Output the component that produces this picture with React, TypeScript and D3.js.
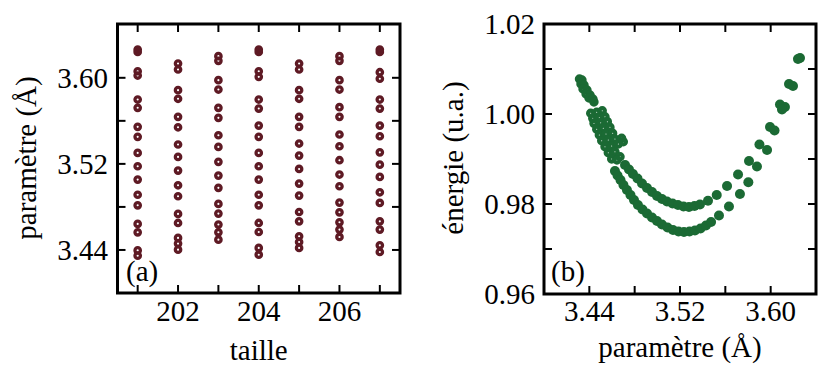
import React from 'react';
import * as d3 from 'd3';

// ---------- Panel (a): parameter vs size ----------
const sizes = [201, 202, 203, 204, 205, 206, 207];
const param201 = [3.6263, 3.6240, 3.6061, 3.6021, 3.5798, 3.5721, 3.5544, 3.5451, 3.5302, 3.5178, 3.5054, 3.4913, 3.4815, 3.4642, 3.4564, 3.4396, 3.4347];
const param202 = [3.6133, 3.6077, 3.5885, 3.5805, 3.5637, 3.5540, 3.5380, 3.5265, 3.5138, 3.5001, 3.4899, 3.4735, 3.4651, 3.4512, 3.4459, 3.4403];
const param203 = [3.6201, 3.6158, 3.5978, 3.5891, 3.5721, 3.5628, 3.5466, 3.5358, 3.5219, 3.5091, 3.4977, 3.4828, 3.4738, 3.4636, 3.4564, 3.4496];
const param204 = [3.6263, 3.6240, 3.6061, 3.6009, 3.5798, 3.5714, 3.5556, 3.5451, 3.5302, 3.5178, 3.5054, 3.4913, 3.4815, 3.4651, 3.4567, 3.4419, 3.4356];
const param205 = [3.6133, 3.6077, 3.5885, 3.5805, 3.5637, 3.5544, 3.5389, 3.5277, 3.5153, 3.5017, 3.4905, 3.4753, 3.4666, 3.4527, 3.4474, 3.4419];
const param206 = [3.6201, 3.6158, 3.5978, 3.5891, 3.5727, 3.5637, 3.5473, 3.5364, 3.5234, 3.5101, 3.4992, 3.4840, 3.4750, 3.4657, 3.4589, 3.4521];
const param207 = [3.6263, 3.6240, 3.6052, 3.5991, 3.5798, 3.5714, 3.5556, 3.5457, 3.5307, 3.5193, 3.5079, 3.4936, 3.4837, 3.4666, 3.4589, 3.4443, 3.4381];
const paramBySize = [param201, param202, param203, param204, param205, param206, param207];

const xTicksA = [201, 202, 203, 204, 205, 206, 207];
const xLabelsA = [202, 204, 206];
const yTicksA = [3.44, 3.48, 3.52, 3.56, 3.60];
const yLabelsA = [3.44, 3.52, 3.60];

// ---------- Panel (b): energy vs parameter ----------
// [paramètre, énergie]
const clusterTop: [number, number][] = [
  [3.4313, 1.00778], [3.4335, 1.00756], [3.4326, 1.00667], [3.4353, 1.00644], [3.4344, 1.00556],
  [3.4379, 1.00533], [3.4371, 1.00444], [3.4406, 1.00422], [3.4397, 1.00356], [3.4432, 1.00333], [3.4441, 1.00267],
];
const clusterMid: [number, number][] = [
  [3.4412, 1.00016], [3.4465, 1.00038], [3.4514, 1.00073],
  [3.4430, 0.99904], [3.4488, 0.99918], [3.4538, 0.99940],
  [3.4441, 0.99793], [3.4500, 0.99807], [3.4559, 0.99829],
  [3.4465, 0.99660], [3.4523, 0.99682], [3.4582, 0.99704],
  [3.4488, 0.99533], [3.4547, 0.99556], [3.4606, 0.99571],
  [3.4509, 0.99407], [3.4567, 0.99422], [3.4626, 0.99444],
  [3.4538, 0.99273], [3.4597, 0.99289], [3.4656, 0.99333],
  [3.4567, 0.99140], [3.4626, 0.99162], [3.4685, 0.99460], [3.4700, 0.99384],
  [3.4671, 0.99051], [3.4597, 0.99000], [3.4644, 0.98978],
];
const upperBranch: [number, number][] = [
  [3.4715, 0.98867], [3.4750, 0.98767], [3.4785, 0.98667], [3.4825, 0.98567], [3.4865, 0.98456],
  [3.4909, 0.98356], [3.4953, 0.98267], [3.4997, 0.98178], [3.5041, 0.98111], [3.5085, 0.98056],
  [3.5134, 0.98011], [3.5182, 0.97978], [3.5231, 0.97944], [3.5279, 0.97933], [3.5328, 0.97956],
  [3.5376, 0.97989], [3.5447, 0.98073], [3.5524, 0.98200], [3.5615, 0.98400], [3.5712, 0.98656],
  [3.5809, 0.98956], [3.5901, 0.99322], [3.5994, 0.99711], [3.6082, 1.00211], [3.6126, 1.00156],
  [3.6100, 1.00100], [3.6162, 1.00667], [3.6197, 1.00622], [3.6259, 1.01244], [3.6241, 1.01222],
];
const lowerBranch: [number, number][] = [
  [3.4626, 0.98733], [3.4649, 0.98633], [3.4675, 0.98533], [3.4701, 0.98422], [3.4732, 0.98311],
  [3.4763, 0.98200], [3.4794, 0.98089], [3.4829, 0.97978], [3.4869, 0.97878], [3.4909, 0.97789],
  [3.4953, 0.97700], [3.4997, 0.97622], [3.5041, 0.97544], [3.5090, 0.97478], [3.5138, 0.97422],
  [3.5187, 0.97389], [3.5235, 0.97378], [3.5284, 0.97389], [3.5332, 0.97411], [3.5381, 0.97456],
  [3.5429, 0.97522], [3.5474, 0.97600], [3.5544, 0.97744], [3.5632, 0.97944], [3.5729, 0.98222],
  [3.5803, 0.98482], [3.5879, 0.98833], [3.5968, 0.99200], [3.6034, 0.99633],
];
const clusterGroups = [clusterTop, clusterMid];
const branchGroups = [upperBranch, lowerBranch];

const xTicksB = [3.44, 3.48, 3.52, 3.56, 3.60];
const xLabelsB = [3.44, 3.52, 3.60];
const yTicksB = [0.97, 0.98, 0.99, 1.00, 1.01];
const yLabelsB = [0.96, 0.98, 1.00, 1.02];

const FONT = "'Liberation Serif'";
const RED = '#5e1a24';
const GREEN = '#1b6a34';

type FrameProps = {
  x: d3.ScaleLinear<number, number>;
  y: d3.ScaleLinear<number, number>;
  xTicks: number[];
  yTicks: number[];
};

function Frame({ x, y, xTicks, yTicks }: FrameProps) {
  const [x0, x1] = x.range();
  const [y0, y1] = y.range(); // y0 bottom, y1 top
  const L = 8;
  return (
    <g stroke="#000">
      {xTicks.map((t) => (
        <g key={'x' + t} strokeWidth={2}>
          <line x1={x(t)} x2={x(t)} y1={y0} y2={y0 - L} />
          <line x1={x(t)} x2={x(t)} y1={y1} y2={y1 + L} />
        </g>
      ))}
      {yTicks.map((t) => (
        <g key={'y' + t} strokeWidth={2}>
          <line x1={x0} x2={x0 + L} y1={y(t)} y2={y(t)} />
          <line x1={x1} x2={x1 - L} y1={y(t)} y2={y(t)} />
        </g>
      ))}
      <rect x={x0} y={y1} width={x1 - x0} height={y0 - y1} fill="none" strokeWidth={3} />
    </g>
  );
}

function T(props: any) {
  const { children, ...rest } = props;
  return (
    <text {...rest} style={{ fontFamily: FONT }}>
      {children}
    </text>
  );
}

export default function App() {
  const xA = d3.scaleLinear().domain([200.5, 207.5]).range([117.5, 400]);
  const yA = d3.scaleLinear().domain([3.40, 3.65]).range([293, 24]);
  const xB = d3.scaleLinear().domain([3.40, 3.64]).range([544, 816]);
  const yB = d3.scaleLinear().domain([0.96, 1.02]).range([294, 24]);

  const fmt2 = d3.format('.2f');

  return (
    <svg width={819} height={366} style={{ position: 'absolute', left: 0, top: 0, background: '#fff' }}>
      <rect width={819} height={366} fill="#fff" />
      {/* Panel (a) */}
      <g>
        {sizes.map((s, i) =>
          paramBySize[i].map((p, j) => (
            <circle key={s + '-' + j} cx={xA(s)} cy={yA(p)} r={2.7} fill="none" stroke={RED} strokeWidth={3.3} />
          ))
        )}
        <Frame x={xA} y={yA} xTicks={xTicksA} yTicks={yTicksA} />
        {xLabelsA.map((t) => (
          <T key={t} x={xA(t)} y={321} fontSize={29} textAnchor="middle">{String(t)}</T>
        ))}
        {yLabelsA.map((t) => (
          <T key={t} x={108} y={yA(t) + 10} fontSize={29} textAnchor="end">{fmt2(t)}</T>
        ))}
        <T x={(117.5 + 400) / 2} y={360} fontSize={29} textAnchor="middle">taille</T>
        <T transform={`translate(36,158) rotate(-90)`} fontSize={29} textAnchor="middle">paramètre (Å)</T>
        <T x={126} y={281} fontSize={29}>(a)</T>
      </g>
      {/* Panel (b) */}
      <g>
        {branchGroups.map((grp, gi) =>
          grp.map(([p, e], j) => (
            <circle key={'b' + gi + '-' + j} cx={xB(p)} cy={yB(e)} r={5} fill={GREEN} />
          ))
        )}
        {clusterGroups.map((grp, gi) =>
          grp.map(([p, e], j) => (
            <circle key={'c' + gi + '-' + j} cx={xB(p)} cy={yB(e)} r={2.6} fill="none" stroke={GREEN} strokeWidth={4.2} />
          ))
        )}
        <Frame x={xB} y={yB} xTicks={xTicksB} yTicks={yTicksB} />
        {xLabelsB.map((t) => (
          <T key={t} x={xB(t)} y={321} fontSize={29} textAnchor="middle">{fmt2(t)}</T>
        ))}
        {yLabelsB.map((t) => (
          <T key={t} x={535} y={yB(t) + 10} fontSize={29} textAnchor="end">{fmt2(t)}</T>
        ))}
        <T x={680} y={357} fontSize={29} textAnchor="middle">paramètre (Å)</T>
        <T transform={`translate(463,158) rotate(-90)`} fontSize={29} textAnchor="middle">énergie (u.a.)</T>
        <T x={551} y={281} fontSize={29}>(b)</T>
      </g>
    </svg>
  );
}
